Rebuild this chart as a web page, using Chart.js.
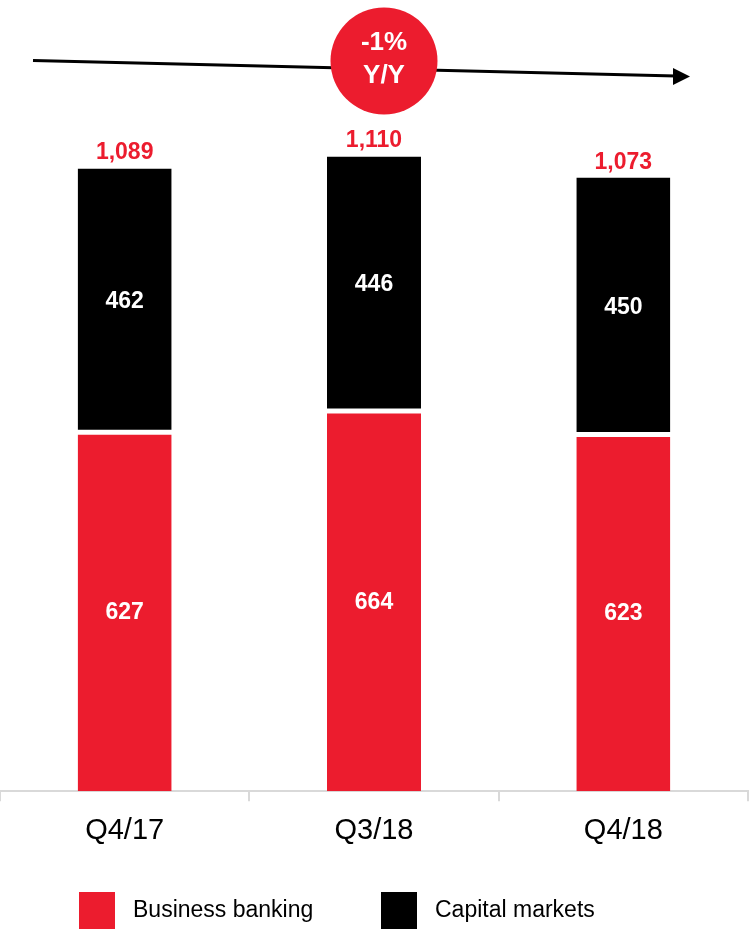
<!DOCTYPE html>
<html>
<head>
<meta charset="utf-8">
<script src="https://cdn.jsdelivr.net/npm/chart.js@4/dist/chart.umd.min.js"></script>
<style>
  body { margin: 0; background: #fff; font-family: "Liberation Sans", Arial, sans-serif; }
  #wrap { position: relative; width: 749px; height: 929px; overflow: hidden; }
  #legend { position: absolute; left: 0; top: 0; width: 749px; height: 929px; pointer-events: none; }
  .lg-box { position: absolute; width: 36px; height: 37px; }
  .lg-text { position: absolute; font-size: 23px; color: #000; line-height: 23px; }
</style>
</head>
<body>
<div id="wrap">
  <canvas id="chart" width="749" height="929"></canvas>
  <div id="legend"></div>
</div>
<script>
const quarters = ['Q4/17', 'Q3/18', 'Q4/18'];
const businessBanking = [627, 664, 623];
const capitalMarkets = [462, 446, 450];
const growthLabel = ['-1%', 'Y/Y'];

const RED = '#ec1c2e';
const FONT = '"Liberation Sans", Arial, sans-serif';

const totals = quarters.map((q, i) => businessBanking[i] + capitalMarkets[i]);

// value labels inside segments and totals above stacks
const labelPlugin = {
  id: 'labels',
  afterDatasetsDraw(chart) {
    const ctx = chart.ctx;
    ctx.save();
    ctx.textAlign = 'center';
    ctx.font = 'bold 23px ' + FONT;
    ctx.fillStyle = '#fff';
    ctx.textBaseline = 'middle';
    chart.data.datasets.forEach((ds, di) => {
      chart.getDatasetMeta(di).data.forEach((bar, i) => {
        const mid = (bar.y + bar.base) / 2;
        ctx.fillText(String(ds.data[i]), bar.x, mid + 1);
      });
    });
    const top = chart.getDatasetMeta(1).data;
    ctx.fillStyle = RED;
    ctx.textBaseline = 'alphabetic';
    top.forEach((bar, i) => {
      ctx.fillText(totals[i].toLocaleString('en-US'), bar.x, bar.y - 9);
    });
    ctx.restore();
  }
};

// trend arrow with the Y/Y badge
const trendPlugin = {
  id: 'trend',
  afterDraw(chart) {
    const ctx = chart.ctx;
    ctx.save();
    ctx.strokeStyle = '#000';
    ctx.lineWidth = 3;
    ctx.beginPath();
    ctx.moveTo(33, 60.5);
    ctx.lineTo(676, 76);
    ctx.stroke();
    ctx.fillStyle = '#000';
    ctx.beginPath();
    ctx.moveTo(690, 76.5);
    ctx.lineTo(673, 68);
    ctx.lineTo(673, 85);
    ctx.closePath();
    ctx.fill();

    ctx.fillStyle = RED;
    ctx.beginPath();
    ctx.arc(384, 61, 53.5, 0, Math.PI * 2);
    ctx.fill();
    ctx.fillStyle = '#fff';
    ctx.font = 'bold 26px ' + FONT;
    ctx.textAlign = 'center';
    ctx.textBaseline = 'alphabetic';
    ctx.fillText(growthLabel[0], 384, 50);
    ctx.fillText(growthLabel[1], 384, 83);
    ctx.restore();
  }
};

const chart = new Chart(document.getElementById('chart').getContext('2d'), {
  type: 'bar',
  data: {
    labels: quarters,
    datasets: [{
      label: 'Business banking',
      data: businessBanking,
      backgroundColor: RED,
      borderColor: '#fff',
      borderWidth: { top: 2, bottom: 0, left: 0, right: 0 },
      borderSkipped: false
    }, {
      label: 'Capital markets',
      data: capitalMarkets,
      backgroundColor: '#000',
      borderColor: '#fff',
      borderWidth: { top: 0, bottom: 3, left: 0, right: 0 },
      borderSkipped: false
    }]
  },
  options: {
    responsive: false,
    animation: false,
    devicePixelRatio: 1,
    categoryPercentage: 1,
    barPercentage: 0.377,
    layout: { padding: { top: 105, bottom: 69, left: 0, right: 1 } },
    plugins: {
      legend: { display: false },
      tooltip: { enabled: false }
    },
    scales: {
      x: {
        stacked: true,
        border: { display: true, color: '#d9d9d9', width: 2 },
        grid: { display: true, drawOnChartArea: false, drawTicks: true, tickLength: 10, color: '#d9d9d9', lineWidth: 2 },
        ticks: { color: '#000', font: { family: FONT, size: 29 }, padding: 12 }
      },
      y: {
        stacked: true,
        display: false,
        min: 0,
        max: 1200
      }
    }
  },
  plugins: [labelPlugin, trendPlugin]
});

// legend in the page, built from the datasets
const legendBox = document.getElementById('legend');
const legendX = [79, 381];
chart.data.datasets.forEach((ds, i) => {
  const box = document.createElement('div');
  box.className = 'lg-box';
  box.style.left = legendX[i] + 'px';
  box.style.top = '892px';
  box.style.background = ds.backgroundColor;
  legendBox.appendChild(box);
  const txt = document.createElement('div');
  txt.className = 'lg-text';
  txt.style.left = (legendX[i] + 54) + 'px';
  txt.style.top = '898px';
  txt.textContent = ds.label;
  legendBox.appendChild(txt);
});
</script>
</body>
</html>
